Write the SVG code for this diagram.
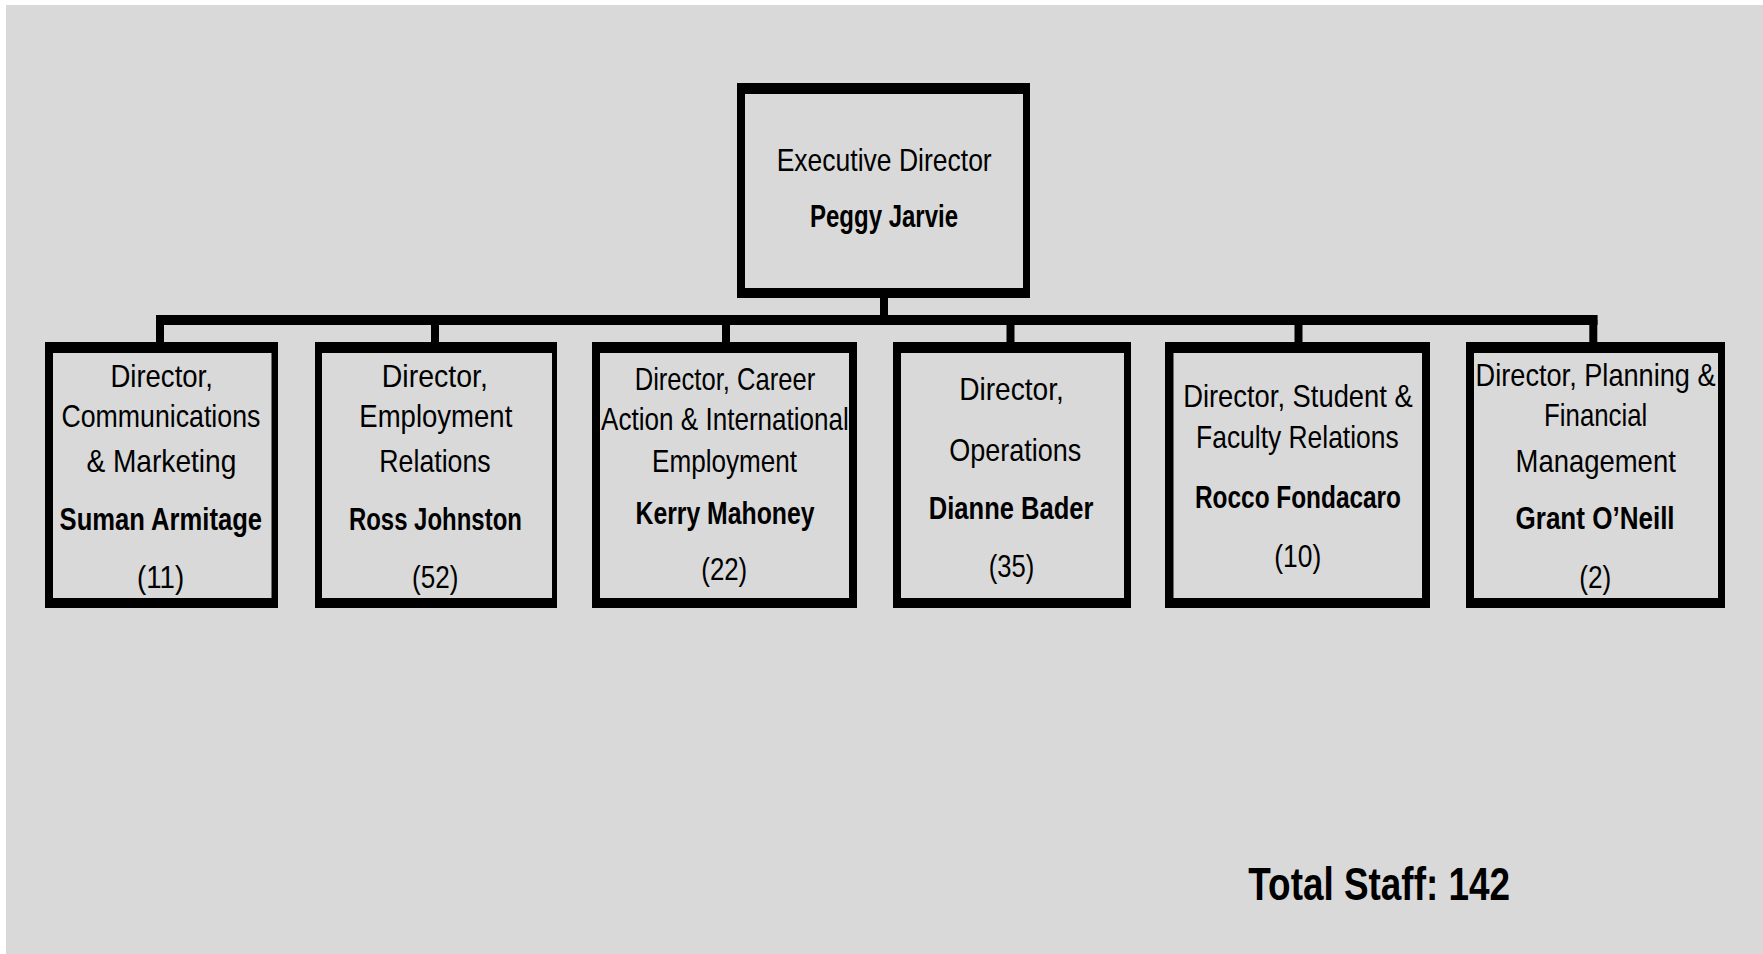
<svg xmlns="http://www.w3.org/2000/svg" width="1763" height="954" viewBox="0 0 1763 954">
<style>
.bg{fill:#d9d9d9}
.frame{fill:#000}
.inner{fill:#d9d9d9}
.conn{stroke:#000;fill:none;stroke-linecap:butt}
text{font-family:"Liberation Sans",Arial,sans-serif;font-size:32px;fill:#000}
.b{font-weight:bold}
.total{font-size:46px;font-weight:bold}
</style>
<rect x="0" y="0" width="1763" height="954" fill="#ffffff"/>
<rect class="bg" x="6" y="5" width="1757" height="949"/>
<g id="connectors">
<line class="conn" x1="884" y1="297" x2="884" y2="316" stroke-width="8"/>
<line class="conn" x1="156" y1="320" x2="1597.6" y2="320" stroke-width="10"/>
<line class="conn" x1="160" y1="320" x2="160" y2="343" stroke-width="8"/>
<line class="conn" x1="435" y1="320" x2="435" y2="343" stroke-width="8"/>
<line class="conn" x1="726" y1="320" x2="726" y2="343" stroke-width="8"/>
<line class="conn" x1="1010.5" y1="320" x2="1010.5" y2="343" stroke-width="8"/>
<line class="conn" x1="1298.5" y1="320" x2="1298.5" y2="343" stroke-width="8"/>
<line class="conn" x1="1593.3" y1="320" x2="1593.3" y2="343" stroke-width="8"/>
</g>
<g id="exec">
<rect class="frame" x="737" y="83" width="293" height="215"/>
<rect class="inner" x="745" y="94" width="278" height="194"/>
<text x="776.7" y="171" textLength="215" lengthAdjust="spacingAndGlyphs">Executive Director</text>
<text class="b" x="810" y="226.7" textLength="148" lengthAdjust="spacingAndGlyphs">Peggy Jarvie</text>
</g>
<g id="comms">
<rect class="frame" x="45" y="342" width="233" height="266"/>
<rect class="inner" x="53" y="353" width="218.5" height="245"/>
<text x="110.4" y="386.7" textLength="102.5" lengthAdjust="spacingAndGlyphs">Director,</text>
<text x="61.4" y="426.7" textLength="199" lengthAdjust="spacingAndGlyphs">Communications</text>
<text x="86.4" y="471.7" textLength="150" lengthAdjust="spacingAndGlyphs">&amp; Marketing</text>
<text class="b" x="59.6" y="530" textLength="202.5" lengthAdjust="spacingAndGlyphs">Suman Armitage</text>
<text x="137.1" y="588.3" textLength="47" lengthAdjust="spacingAndGlyphs">(11)</text>
</g>
<g id="employment">
<rect class="frame" x="315" y="342" width="242" height="266"/>
<rect class="inner" x="322" y="353" width="230" height="245"/>
<text x="381.8" y="386.7" textLength="106" lengthAdjust="spacingAndGlyphs">Director,</text>
<text x="359.3" y="426.7" textLength="153" lengthAdjust="spacingAndGlyphs">Employment</text>
<text x="379.3" y="471.7" textLength="111.4" lengthAdjust="spacingAndGlyphs">Relations</text>
<text class="b" x="348.9" y="530" textLength="173" lengthAdjust="spacingAndGlyphs">Ross Johnston</text>
<text x="412.1" y="588.3" textLength="46.4" lengthAdjust="spacingAndGlyphs">(52)</text>
</g>
<g id="career">
<rect class="frame" x="592" y="342" width="265" height="266"/>
<rect class="inner" x="600" y="353" width="249" height="245"/>
<text x="634.7" y="390" textLength="180.5" lengthAdjust="spacingAndGlyphs">Director, Career</text>
<text x="601.1" y="430" textLength="247.8" lengthAdjust="spacingAndGlyphs">Action &amp; International</text>
<text x="652.1" y="471.7" textLength="145" lengthAdjust="spacingAndGlyphs">Employment</text>
<text class="b" x="635.5" y="524" textLength="179" lengthAdjust="spacingAndGlyphs">Kerry Mahoney</text>
<text x="701.3" y="580" textLength="45.9" lengthAdjust="spacingAndGlyphs">(22)</text>
</g>
<g id="operations">
<rect class="frame" x="893" y="342" width="238" height="266"/>
<rect class="inner" x="901" y="353" width="223" height="245"/>
<text x="959.2" y="400" textLength="104.7" lengthAdjust="spacingAndGlyphs">Director,</text>
<text x="949.2" y="461" textLength="132.1" lengthAdjust="spacingAndGlyphs">Operations</text>
<text class="b" x="928.8" y="519" textLength="164.6" lengthAdjust="spacingAndGlyphs">Dianne Bader</text>
<text x="988.7" y="576.7" textLength="45.5" lengthAdjust="spacingAndGlyphs">(35)</text>
</g>
<g id="student">
<rect class="frame" x="1165" y="342" width="265" height="266"/>
<rect class="inner" x="1173.5" y="353" width="248.5" height="245"/>
<text x="1183.2" y="407.3" textLength="229.5" lengthAdjust="spacingAndGlyphs">Director, Student &amp;</text>
<text x="1196.1" y="447.7" textLength="202.5" lengthAdjust="spacingAndGlyphs">Faculty Relations</text>
<text class="b" x="1195" y="508.3" textLength="206" lengthAdjust="spacingAndGlyphs">Rocco Fondacaro</text>
<text x="1274.3" y="567.3" textLength="46.9" lengthAdjust="spacingAndGlyphs">(10)</text>
</g>
<g id="planning">
<rect class="frame" x="1466" y="342" width="259" height="266"/>
<rect class="inner" x="1474" y="353" width="244" height="245"/>
<text x="1475.6" y="386" textLength="240" lengthAdjust="spacingAndGlyphs">Director, Planning &amp;</text>
<text x="1544.1" y="426" textLength="103.2" lengthAdjust="spacingAndGlyphs">Financial</text>
<text x="1515.5" y="471.7" textLength="160.3" lengthAdjust="spacingAndGlyphs">Management</text>
<text class="b" x="1515.5" y="529" textLength="159.1" lengthAdjust="spacingAndGlyphs">Grant O’Neill</text>
<text x="1579.2" y="588.3" textLength="32" lengthAdjust="spacingAndGlyphs">(2)</text>
</g>
<g id="total">
<text class="total" x="1248.3" y="900" textLength="261.7" lengthAdjust="spacingAndGlyphs">Total Staff: 142</text>
</g>
</svg>
